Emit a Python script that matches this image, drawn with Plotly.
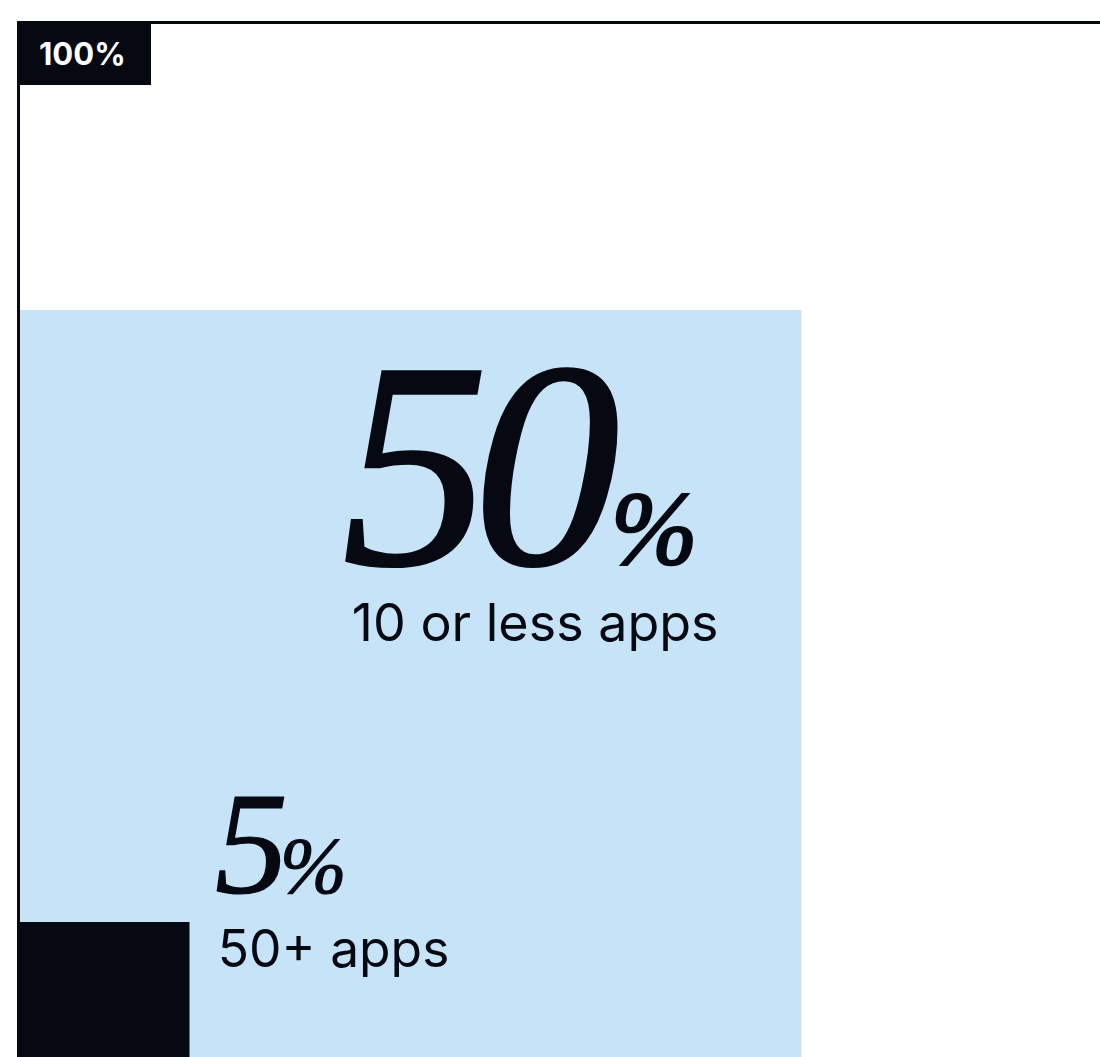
import plotly.graph_objects as go

# ---- data ----
shares = [100, 50, 5]
descriptions = ["", "10 or less apps", "50+ apps"]
share_label_top = "100%"

# ---- styling / layout config ----
DARK = "#070912"
BLUE = "#C6E3F8"
W, H = 1100, 1057

# square geometry in pixel-like axis units (left, top, side)
geom = {
    100: (18.5, 22.5, 1107),
    50: (18.5, 310, 783),
    5: (18.5, 922, 171),
}
fills = {100: "rgba(0,0,0,0)", 50: BLUE, 5: DARK}

# text block placement / sizes
# base = font size that sets the line spacing between number and label
text_cfg = {
    50: dict(x=340, y=656, base=59, nfs=294, pfs=104, ls=-16, ls2=-9, sw=2.5,
             lfs=52, indent=7),
    5: dict(x=213, y=981, base=57, nfs=146, pfs=80, ls=-8, ls2=-8, sw=1.2,
            lfs=51.5, indent=0),
}


def block_text(value, desc, c):
    s = str(value)
    head, tail = s[:-1], s[-1]
    num_style = (f"font-family:Liberation Serif;font-style:italic;font-size:{c['nfs']}px;"
                 f"stroke:{DARK};stroke-width:{c['sw']}px")
    digits = ""
    if head:
        digits += f"<span style='letter-spacing:{c['ls']}px'>{head}</span>"
    digits += f"<span style='letter-spacing:{c['ls2']}px'>{tail}</span>"
    number = (f"<span style='{num_style}'>{digits}"
              f"<span style='font-size:{c['pfs']}px'>%</span></span>")
    pad = f"<span style='font-size:10px;letter-spacing:{c['indent']}px'>\u00a0</span>"
    label = f"<span style='font-size:{c['lfs']}px'>{desc}</span>"
    return number + "<br>" + pad + label


fig = go.Figure()
fig.add_trace(go.Scatter(x=[0, W], y=[0, H], mode="markers",
                         marker=dict(opacity=0), hoverinfo="skip", showlegend=False))

shapes = []
for s in shares:
    if s == 100:
        continue
    x0, y0, side = geom[s]
    shapes.append(dict(type="rect", xref="x", yref="y", x0=x0, x1=x0 + side,
                       y0=y0, y1=y0 + side, fillcolor=fills[s], line=dict(width=0),
                       layer="below"))
x0, y0, side = geom[100]
shapes.append(dict(type="rect", xref="x", yref="y", x0=x0, x1=x0 + side,
                   y0=y0, y1=y0 + side, fillcolor="rgba(0,0,0,0)",
                   line=dict(width=3, color=DARK), layer="above"))
shapes.append(dict(type="rect", xref="x", yref="y", x0=17, x1=151, y0=21, y1=85,
                   fillcolor=DARK, line=dict(width=0), layer="above"))

annotations = [
    dict(x=82.5, y=53.5, xref="x", yref="y", text=share_label_top, showarrow=False,
         xanchor="center", yanchor="middle",
         font=dict(family="Inter", size=31, color="white", weight=700)),
]
for s, desc in zip(shares, descriptions):
    if s not in text_cfg:
        continue
    c = text_cfg[s]
    annotations.append(dict(
        x=c["x"], y=c["y"], xref="x", yref="y",
        text=block_text(s, desc, c), align="left",
        showarrow=False, xanchor="left", yanchor="bottom",
        font=dict(family="Inter", size=c["base"], color=DARK)))

fig.update_layout(
    width=W, height=H, margin=dict(l=0, r=0, t=0, b=0, pad=0),
    paper_bgcolor="white", plot_bgcolor="white",
    xaxis=dict(range=[0, W], visible=False, fixedrange=True),
    yaxis=dict(range=[H, 0], visible=False, fixedrange=True),
    shapes=shapes, annotations=annotations, showlegend=False,
)
fig.write_html("out.html")
